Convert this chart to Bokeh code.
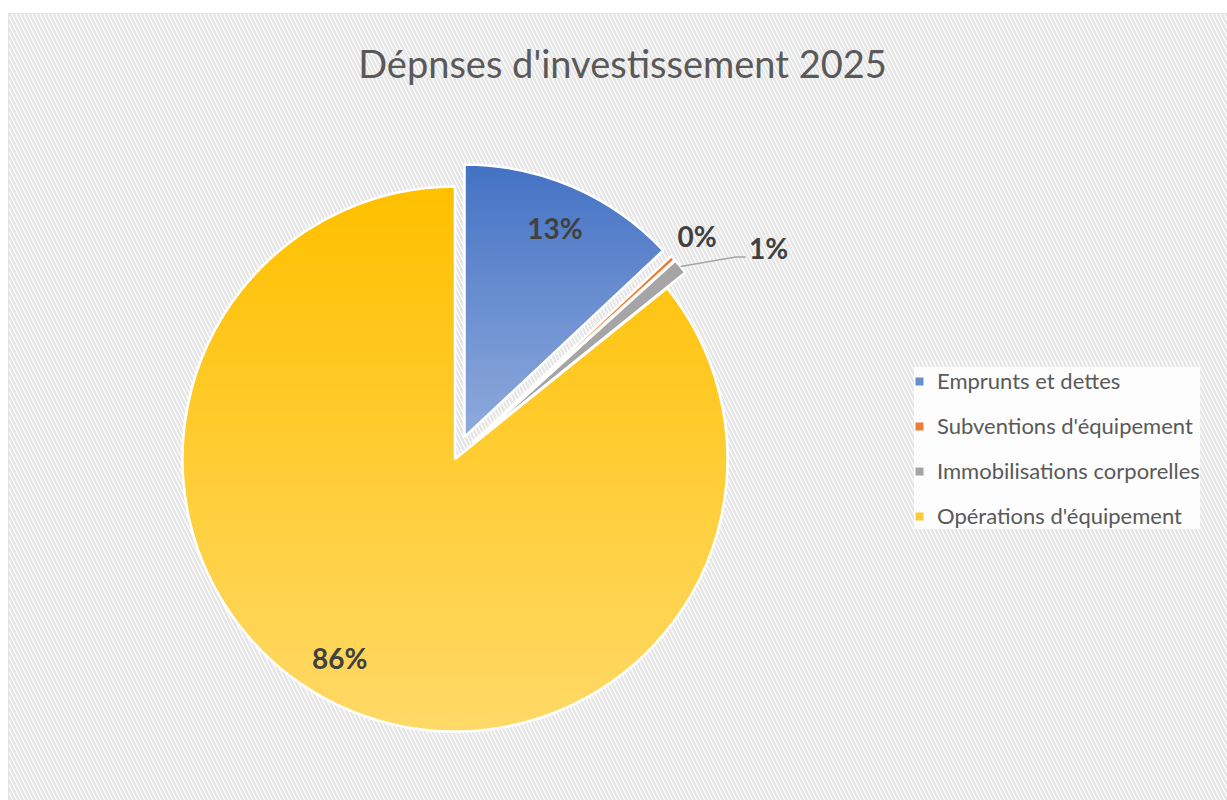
import numpy as np
from bokeh.plotting import figure
from bokeh.models import ColumnDataSource, Range1d, Label, BoxAnnotation, Legend, LegendItem
from bokeh.core.properties import value
from bokeh.embed import file_html
from bokeh.resources import INLINE

# ---- data ----
categories = ["Emprunts et dettes", "Subventions d'équipement",
              "Immobilisations corporelles", "Opérations d'équipement"]
values = [13.0, 0.3, 0.9, 85.8]
pct_labels = ["13%", "0%", "1%", "86%"]
title_text = "Dépnses d'investissement 2025"

# ---- style / layout ----
colors = ["#6A8DD0", "#ED7D31", "#A5A5A5", "#FFCB35"]
grad_top = ["#4472C4", None, None, "#FFC000"]
grad_bottom = ["#8FAADC", None, None, "#FFD966"]
explode = [24, 24, 24, 0]
label_r = [0.835, 1.12, 1.30, 0.845]
label_shift_deg = [0, 0, 7, 4.5]

W, H = 1227, 800
LEFT, TOP = 8, 13
FW, FH = W - LEFT, H - TOP
cx, cy, R = 446.5, 341.5, 272.5

vals = np.array(values, dtype=float)
frac = vals / vals.sum()
cum = np.concatenate([[0], np.cumsum(frac)])
start = np.pi / 2 - 2 * np.pi * cum[:-1]
end = np.pi / 2 - 2 * np.pi * cum[1:]
mid = (start + end) / 2
ex = np.array(explode, dtype=float)
xs = cx + ex * np.cos(mid)
ys = cy + ex * np.sin(mid)

src = ColumnDataSource(dict(x=xs, y=ys, start=start, end=end, color=colors, label=categories))

p = figure(width=W, height=H, output_backend="svg", toolbar_location=None,
           x_range=Range1d(0, FW), y_range=Range1d(0, FH),
           min_border_left=LEFT, min_border_right=0, min_border_bottom=0, min_border_top=TOP,
           border_fill_color="white", background_fill_color="white",
           outline_line_color="#D9D9D9", outline_line_width=1)
p.axis.visible = False
p.grid.visible = False

# hatched background
p.add_layout(BoxAnnotation(fill_color="white", fill_alpha=1.0, line_alpha=0,
                           hatch_pattern="\\", hatch_color="#E6E6E6",
                           hatch_weight=2.5, hatch_scale=8, level="underlay"))

# base slices (flat colours, used for the legend)
r = p.wedge(x="x", y="y", radius=R, start_angle="start", end_angle="end",
            direction="clock", fill_color="color", line_color=None, source=src)


def hex2rgb(h):
    h = h.lstrip("#")
    return np.array([int(h[k:k + 2], 16) for k in (0, 2, 4)], dtype=float)


def clip_below(px, py, yk):
    ox, oy = [], []
    n = len(px)
    for k in range(n):
        x1, y1 = px[k], py[k]
        x2, y2 = px[(k + 1) % n], py[(k + 1) % n]
        in1, in2 = y1 <= yk, y2 <= yk
        if in1:
            ox.append(x1); oy.append(y1)
        if in1 != in2:
            t = (yk - y1) / (y2 - y1)
            ox.append(x1 + t * (x2 - x1)); oy.append(yk)
    return ox, oy


# vertical gradient overlays
gx, gy, gc = [], [], []
for i in range(len(values)):
    if grad_top[i] is None:
        continue
    ang = np.linspace(start[i], end[i], 200)
    px = np.concatenate([[xs[i]], xs[i] + R * np.cos(ang)])
    py = np.concatenate([[ys[i]], ys[i] + R * np.sin(ang)])
    ymax, ymin = py.max(), py.min()
    c0, c1 = hex2rgb(grad_top[i]), hex2rgb(grad_bottom[i])
    nlay = 70
    for k in range(nlay):
        yk = ymax - (ymax - ymin) * k / nlay
        t = k / (nlay - 1)
        c = (c0 + (c1 - c0) * t).round().astype(int)
        ox, oy = clip_below(px, py, yk + 0.01)
        if len(ox) < 3:
            continue
        gx.append(ox); gy.append(oy)
        gc.append("#%02x%02x%02x" % tuple(c))
p.patches(xs=gx, ys=gy, fill_color=gc, line_color=None)

# white slice borders on top
p.wedge(x="x", y="y", radius=R, start_angle="start", end_angle="end",
        direction="clock", fill_alpha=0, line_color="white", line_width=2.5, source=src)

# labels
lang = mid - np.deg2rad(np.array(label_shift_deg, dtype=float))
lx = xs + np.array(label_r) * R * np.cos(lang)
ly = ys + np.array(label_r) * R * np.sin(lang)
lsrc = ColumnDataSource(dict(x=lx, y=ly, t=pct_labels))
p.text(x="x", y="y", text="t", source=lsrc, text_align="center", text_baseline="middle",
       text_font=value("Lato"), text_font_style="bold", text_font_size="28px",
       text_color="#404040")

# leader line for the small grey slice
i = 2
sx = xs[i] + R * np.cos(mid[i])
sy = ys[i] + R * np.sin(mid[i])
p.line(x=[sx, lx[i] - 33, lx[i] - 23], y=[sy, ly[i] - 9, ly[i] - 9],
       line_color="#A6A6A6", line_width=1.5)

# title
p.add_layout(Label(x=614, y=FH - 49, text=title_text, text_align="center",
                   text_baseline="middle", text_font="Lato", text_font_size="38px",
                   text_color="#595959"))

legend = Legend(items=[LegendItem(label=c, renderers=[r], index=k) for k, c in enumerate(categories)],
                location=(906, 271), orientation="vertical",
                background_fill_color="white", background_fill_alpha=0.85,
                border_line_color=None, padding=17, margin=0,
                glyph_width=10, glyph_height=10, label_height=26, spacing=18,
                label_standoff=13, label_text_font="Lato", label_text_font_size="22px",
                label_text_color="#595959")
p.add_layout(legend)

open("out.html", "w").write(file_html(p, INLINE))
